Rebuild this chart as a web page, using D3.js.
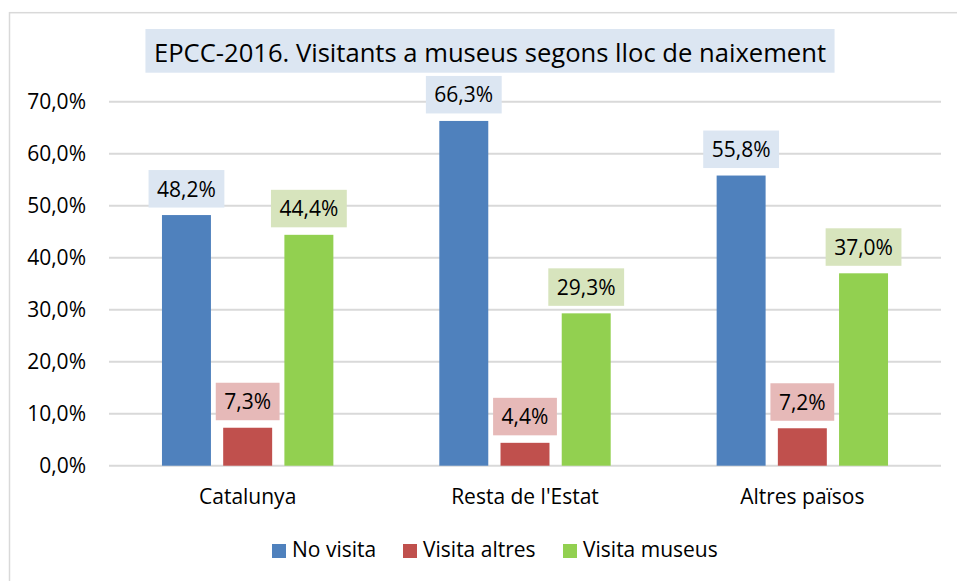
<!DOCTYPE html>
<html><head><meta charset="utf-8">
<script src="https://cdn.jsdelivr.net/npm/d3@7"></script>
<style>
html,body{margin:0;padding:0;background:#fff;}
svg{display:block;font-family:"Open Sans",sans-serif;}
</style></head>
<body>
<svg id="chart" width="957" height="581"></svg>
<script>
const title = "EPCC-2016. Visitants a museus segons lloc de naixement";
const categories = ["Catalunya", "Resta de l'Estat", "Altres països"];
const seriesNames = ["No visita", "Visita altres", "Visita museus"];
const noVisita = [48.2, 66.3, 55.8];
const visitaAltres = [7.3, 4.4, 7.2];
const visitaMuseus = [44.4, 29.3, 37.0];
const yTicks = [0, 10, 20, 30, 40, 50, 60, 70];
const seriesColors = ["#4F81BD", "#C0504D", "#92D050"];
const labelBg = ["#DCE6F2", "#E6B9B8", "#D7E4BD"];

const seriesValues = [noVisita, visitaAltres, visitaMuseus];
const fmt = v => v.toFixed(1).replace(".", ",") + "%";

const svg = d3.select("#chart");
svg.append("rect").attr("x", 9.5).attr("y", 12.7).attr("width", 960).attr("height", 600)
  .attr("fill", "#fff").attr("stroke", "#d9d9d9").attr("stroke-width", 1.5);

const y = d3.scaleLinear().domain([0, 70]).range([465.7, 101.7]);
const x0 = d3.scaleBand().domain(categories).range([109, 941]).paddingInner(0.382).paddingOuter(0.191);
const x1 = d3.scaleBand().domain(seriesNames).range([0, x0.bandwidth()]).paddingInner(0.2).paddingOuter(0);

// gridlines
svg.append("g").selectAll("line").data(yTicks).join("line")
  .attr("x1", 109).attr("x2", 941)
  .attr("y1", d => y(d)).attr("y2", d => y(d))
  .attr("stroke", "#d9d9d9").attr("stroke-width", 2);

// y labels
svg.append("g").selectAll("text").data(yTicks).join("text")
  .attr("x", 86).attr("y", d => y(d)).attr("dy", "0.36em")
  .attr("text-anchor", "end").attr("font-size", 21).attr("fill", "#000")
  .text(d => d.toFixed(1).replace(".", ",") + "%");

// bars
const data = [];
categories.forEach((c, i) => seriesNames.forEach((s, j) => data.push({c, s, j, v: seriesValues[j][i]})));

svg.append("g").selectAll("rect").data(data).join("rect")
  .attr("x", d => x0(d.c) + x1(d.s)).attr("width", x1.bandwidth())
  .attr("y", d => y(d.v)).attr("height", d => y(0) - y(d.v))
  .attr("fill", d => seriesColors[d.j]);

// data labels
const lg = svg.append("g");
data.forEach(d => {
  const cx = x0(d.c) + x1(d.s) + x1.bandwidth() / 2;
  const boxBottom = y(d.v) - 7.5;
  const g = lg.append("g");
  const r = g.append("rect").attr("fill", labelBg[d.j]);
  const t = g.append("text").attr("x", cx).attr("y", boxBottom - 11)
    .attr("text-anchor", "middle").attr("font-size", 21).attr("fill", "#000").text(fmt(d.v));
  const w = t.node().getComputedTextLength() + 17;
  r.attr("x", cx - w / 2).attr("width", w).attr("y", boxBottom - 37.5).attr("height", 37.5);
});

// category labels
svg.append("g").selectAll("text").data(categories).join("text")
  .attr("x", d => x0(d) + x0.bandwidth() / 2).attr("y", 504)
  .attr("text-anchor", "middle").attr("font-size", 21).attr("fill", "#000").text(d => d);

// title
const tg = svg.append("g");
const tr = tg.append("rect").attr("fill", "#DCE6F2");
const tt = tg.append("text").attr("x", 490).attr("y", 61.5).attr("text-anchor", "middle")
  .attr("font-size", 25.6).attr("fill", "#000").text(title);
const tw = tt.node().getComputedTextLength();
tr.attr("x", 490 - tw / 2 - 8.5).attr("width", tw + 17).attr("y", 29).attr("height", 43.7);

// legend
const legX = [272, 403, 563];
const leg = svg.append("g");
seriesNames.forEach((s, j) => {
  leg.append("rect").attr("x", legX[j]).attr("y", 544).attr("width", 14).attr("height", 14).attr("fill", seriesColors[j]);
  leg.append("text").attr("x", legX[j] + 20).attr("y", 557).attr("font-size", 21).attr("fill", "#000").text(s);
});
</script>
</body></html>
